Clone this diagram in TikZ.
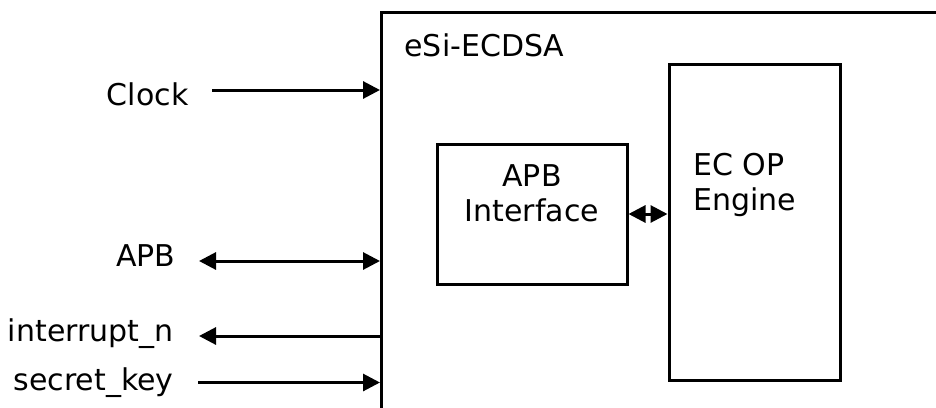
\documentclass[tikz,border=0pt]{standalone}
\usepackage{fontspec}
\setmainfont{DejaVu Sans}
\usetikzlibrary{arrows.meta}
\begin{document}
\begin{tikzpicture}[x=0.5pt, y=-0.5pt, line width=1.5pt, >={Triangle[length=8.5pt,width=8.5pt]},
  font=\fontsize{15}{17.5}\selectfont,
  blk/.style={draw, inner sep=0pt},
  pin/.style={anchor=east, inner sep=0pt}]
\clip (0,0) rectangle (936,407);
\node[blk, minimum width=289pt, minimum height=209pt] (esi) at (670.5,221) {};
\node[anchor=west, inner sep=0pt] (title) at (403,45) {eSi-ECDSA};
\node[blk, minimum width=95pt, minimum height=70pt] (apb) at (532,214) {};
\node[align=center, inner sep=0pt] (apbtext) at (532,193) {APB\\Interface};
\node[blk, minimum width=85.5pt, minimum height=158pt] (ec) at (754.5,222) {};
\node[anchor=west, align=left, inner sep=0pt] (ectext) at (692,185) {EC OP\\Engine};
\node[pin] (clk) at (190,94) {Clock};
\node[pin] (apbpin) at (177,256) {APB};
\node[pin] (irq) at (175,333.5) {interrupt\_n};
\node[pin] (key) at (175,382.5) {secret\_key};
\draw[->] ([xshift=11pt,yshift=2pt]clk.east) -- ([yshift=2pt]clk.east -| esi.west);
\draw[<->] ([xshift=11pt,yshift=-2.5pt]apbpin.east) -- ([yshift=-2.5pt]apbpin.east -| esi.west);
\draw[->] ([yshift=-1.25pt]irq.east -| esi.west) -- ([xshift=12pt,yshift=-1.25pt]irq.east);
\draw[->] ([xshift=11.5pt]key.east) -- (key.east -| esi.west);
\draw[<->] (apb.east) -- (apb.east -| ec.west);
\end{tikzpicture}
\end{document}
